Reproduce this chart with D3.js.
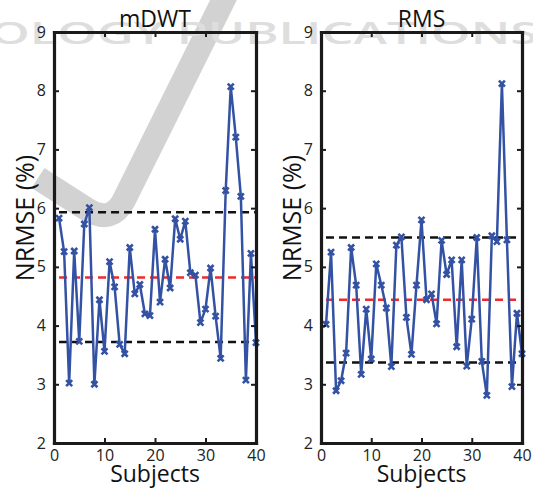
<!DOCTYPE html>
<html lang="en">
<head>
<meta charset="UTF-8">
<title>NRMSE mDWT vs RMS</title>
<script src="https://cdn.jsdelivr.net/npm/d3@7"></script>
<style>
  body { margin: 0; background: #fff; }
  svg { font-family: "Open Sans", "DejaVu Sans", sans-serif; }
</style>
</head>
<body>
<div id="chart"></div>
<script>
// subjects 1..40
var subjects = d3.range(1, 41);

// NRMSE (%) per subject
var mdwtValues = [5.83, 5.26, 3.02, 5.27, 3.73, 5.73, 6.01, 3.00, 4.44, 3.56,
                  5.09, 4.66, 3.68, 3.52, 5.33, 4.54, 4.70, 4.20, 4.17, 5.64,
                  4.40, 5.13, 4.64, 5.82, 5.47, 5.78, 4.90, 4.86, 4.05, 4.28,
                  4.98, 4.16, 3.44, 6.30, 8.07, 7.21, 6.20, 3.07, 5.23, 3.71];
var rmsValues = [4.02, 5.25, 2.89, 3.06, 3.53, 5.33, 4.69, 3.17, 4.28, 3.43,
                 5.05, 4.69, 4.30, 3.30, 5.37, 5.51, 4.14, 3.51, 4.69, 5.80,
                 4.44, 4.54, 4.03, 5.45, 4.87, 5.12, 3.64, 5.12, 3.31, 4.11,
                 5.50, 3.39, 2.81, 5.53, 5.43, 8.12, 5.46, 2.96, 4.21, 3.52];

// mean and mean +/- std lines
var mdwtRefs = [5.93, 4.82, 3.72];
var rmsRefs = [5.50, 4.44, 3.37];

var panelTitles = ["mDWT", "RMS"];
var xTicks = [0, 10, 20, 30, 40];
var yTicks = [2, 3, 4, 5, 6, 7, 8, 9];

var W = 533, H = 488;
var svg = d3.select("#chart").append("svg")
    .attr("width", W)
    .attr("height", H);

svg.append("rect").attr("width", W).attr("height", H).attr("fill", "#fff");

// faint publisher watermark behind the plots
svg.append("path")
    .attr("d", "M 226 -5 L 124 200 Q 112 224 88 210 L 38 178")
    .attr("fill", "none")
    .attr("stroke", "#d2d2d2")
    .attr("stroke-width", 24)
    .attr("stroke-linejoin", "round");
svg.append("text")
    .attr("x", -10).attr("y", 44)
    .attr("textLength", 548)
    .attr("lengthAdjust", "spacingAndGlyphs")
    .attr("fill", "#dedede")
    .attr("font-size", 30)
    .attr("font-weight", "600")
    .text("OLOGY PUBLICATIONS");

var blue = "#3452a4";

var panels = [
  { title: panelTitles[0], values: mdwtValues, refs: mdwtRefs, x0: 54, x1: 256 },
  { title: panelTitles[1], values: rmsValues, refs: rmsRefs, x0: 321, x1: 522 }
];

var y = d3.scaleLinear().domain([2, 9]).range([443, 32]);

panels.forEach(function(p) {
  var x = d3.scaleLinear().domain([0, 40]).range([p.x0, p.x1]);
  var g = svg.append("g");

  // reference lines: black, red, black
  var refColors = ["#111", "#ee2a2a", "#111"];
  p.refs.forEach(function(v, i) {
    g.append("line")
      .attr("x1", x(1)).attr("x2", x(40))
      .attr("y1", y(v)).attr("y2", y(v))
      .attr("stroke", refColors[i])
      .attr("stroke-width", 2.5)
      .attr("stroke-dasharray", "8,5");
  });

  // data line
  var line = d3.line()
    .x(function(d, i) { return x(subjects[i]); })
    .y(function(d) { return y(d); });

  g.append("path")
    .datum(p.values)
    .attr("fill", "none")
    .attr("stroke", blue)
    .attr("stroke-width", 2.5)
    .attr("stroke-linejoin", "round")
    .attr("d", line);

  // x markers
  var s = 3;
  g.selectAll(".mk")
    .data(p.values)
    .enter().append("path")
    .attr("class", "mk")
    .attr("transform", function(d, i) { return "translate(" + x(subjects[i]) + "," + y(d) + ")"; })
    .attr("d", "M" + (-s) + "," + (-s) + "L" + s + "," + s + "M" + (-s) + "," + s + "L" + s + "," + (-s))
    .attr("stroke", blue)
    .attr("stroke-width", 2.6);

  // axes (matlab style box, ticks inward)
  var axL = g.append("g").attr("transform", "translate(" + p.x0 + ",0)")
    .call(d3.axisLeft(y).tickValues(yTicks).tickSizeInner(-5).tickSizeOuter(0).tickPadding(8).tickFormat(d3.format("d")));
  var axR = g.append("g").attr("transform", "translate(" + p.x1 + ",0)")
    .call(d3.axisRight(y).tickValues(yTicks).tickSizeInner(-5).tickSizeOuter(0).tickFormat(""));
  var axB = g.append("g").attr("transform", "translate(0,443)")
    .call(d3.axisBottom(x).tickValues(xTicks).tickSizeInner(-5).tickSizeOuter(0).tickPadding(7));
  var axT = g.append("g").attr("transform", "translate(0,32)")
    .call(d3.axisTop(x).tickValues(xTicks).tickSizeInner(-5).tickSizeOuter(0).tickFormat(""));

  [axL, axR, axB, axT].forEach(function(a) {
    a.select(".domain").attr("stroke", "#1a1a1a").attr("stroke-width", 3.2).attr("stroke-linecap", "square");
    a.selectAll(".tick line").attr("stroke", "#1a1a1a").attr("stroke-width", 2);
    a.selectAll(".tick text").attr("font-size", 16).attr("fill", "#222")
      .attr("font-family", "'Open Sans', sans-serif");
  });

  // title
  svg.append("text")
    .attr("x", (p.x0 + p.x1) / 2).attr("y", 27)
    .attr("text-anchor", "middle")
    .attr("font-size", 23)
    .attr("fill", "#111")
    .text(p.title);

  // axis labels
  svg.append("text")
    .attr("x", (p.x0 + p.x1) / 2).attr("y", 482)
    .attr("text-anchor", "middle")
    .attr("font-size", 23)
    .attr("fill", "#111")
    .text("Subjects");

  svg.append("text")
    .attr("transform", "translate(" + (p.x0 - 20) + ",218) rotate(-90)")
    .attr("text-anchor", "middle")
    .attr("font-size", 25)
    .attr("fill", "#111")
    .text("NRMSE (%)");
});
</script>
</body>
</html>
